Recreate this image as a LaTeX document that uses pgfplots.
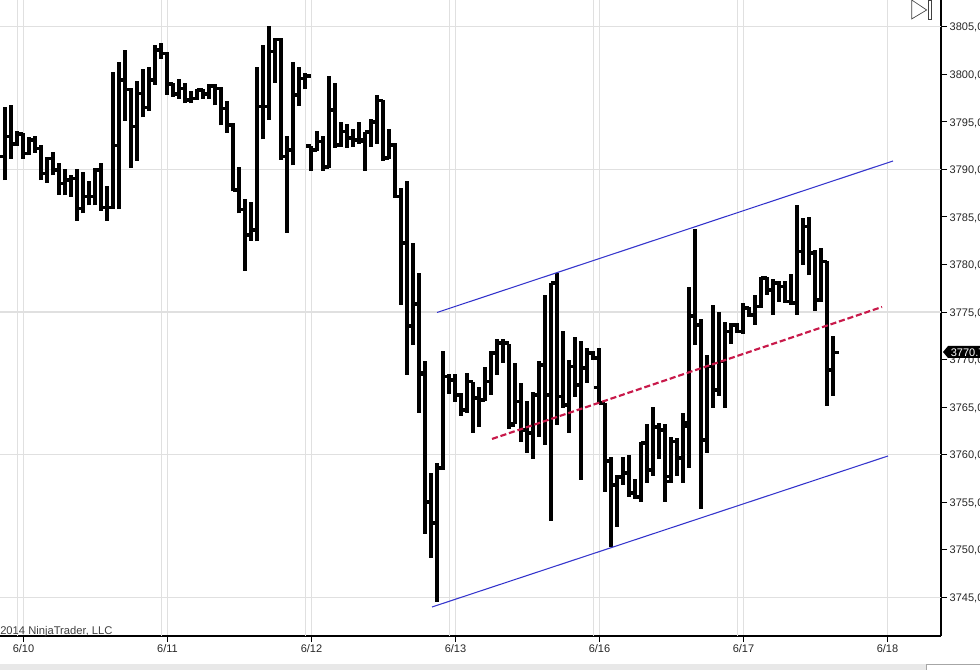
\documentclass[border=0pt]{standalone}
\usepackage{pgfplots}
\usepackage{pgfplotstable}
\usepackage{fontspec}
\setmainfont{Liberation Sans}
\pgfplotsset{compat=1.18}
\definecolor{gridlight}{HTML}{E0E0E0}
\definecolor{griddark}{HTML}{BEBEBE}
\definecolor{chanblue}{HTML}{3434CC}
\definecolor{midred}{HTML}{C8194A}
% x is the chart's horizontal position (bars are evenly spaced, 24 to a session)
\pgfplotstableread{
x h l o c
5 3796.52 3788.88 3791.34 3793.44
11 3796.73 3791.13 3793.44 3792.67
17 3794.00 3792.46 3792.67 3793.72
23 3793.79 3791.13 3793.72 3791.69
29 3793.44 3791.48 3791.69 3793.09
35 3793.51 3791.76 3793.09 3792.21
41 3792.53 3788.88 3792.21 3789.58
47 3791.27 3788.60 3789.58 3791.16
53 3791.83 3789.37 3791.16 3789.93
59 3790.71 3787.34 3789.93 3788.53
65 3790.00 3787.27 3788.53 3788.88
71 3789.44 3787.13 3788.88 3789.06
77 3790.00 3784.61 3789.06 3785.90
83 3789.72 3785.38 3785.90 3787.13
89 3788.74 3786.22 3787.13 3787.13
95 3790.14 3786.22 3787.13 3789.93
101 3790.71 3785.66 3789.93 3786.01
107 3788.25 3784.61 3786.01 3786.01
113 3800.24 3785.87 3786.01 3792.53
119 3801.29 3785.87 3792.53 3799.40
125 3802.55 3795.12 3799.40 3798.42
131 3798.56 3790.14 3798.42 3794.49
137 3799.26 3790.92 3794.49 3798.00
143 3800.52 3795.47 3798.00 3796.52
149 3800.73 3796.17 3796.52 3799.40
155 3803.04 3798.91 3799.40 3802.55
161 3803.25 3801.64 3802.55 3802.20
167 3802.34 3797.86 3802.20 3798.98
173 3799.05 3797.65 3798.98 3797.93
179 3799.47 3797.44 3797.93 3798.52
185 3799.05 3796.94 3798.52 3797.30
191 3798.21 3796.94 3797.30 3797.47
197 3798.49 3797.30 3797.47 3798.35
203 3798.49 3797.44 3798.35 3797.93
209 3798.98 3797.44 3797.93 3798.77
215 3798.98 3796.73 3798.77 3798.52
221 3798.70 3794.63 3798.52 3796.42
227 3797.22 3793.86 3796.42 3794.67
233 3794.91 3787.69 3794.67 3787.83
239 3790.21 3785.38 3787.83 3785.80
245 3786.92 3779.35 3785.80 3783.10
251 3786.57 3782.50 3783.10 3783.63
257 3800.73 3782.43 3783.63 3796.59
263 3803.04 3793.16 3796.59 3796.59
269 3805.08 3795.19 3796.59 3802.38
275 3803.81 3799.12 3802.38 3803.67
281 3803.81 3790.99 3803.67 3791.34
287 3793.51 3783.35 3791.34 3792.04
293 3801.29 3790.42 3792.04 3797.82
299 3800.73 3796.66 3797.82 3799.57
305 3800.17 3798.42 3799.57 3799.82
311 3792.46 3789.86 3792.46 3792.04
317 3794.04 3791.96 3792.04 3792.91
323 3793.51 3789.86 3792.91 3790.25
329 3799.82 3790.14 3790.25 3796.24
335 3799.08 3792.25 3796.24 3792.56
341 3794.98 3792.35 3792.56 3793.96
347 3794.77 3792.25 3793.96 3793.30
353 3794.25 3792.35 3793.30 3793.09
359 3794.98 3792.67 3793.09 3793.09
365 3793.93 3789.86 3792.91 3793.93
371 3795.32 3792.35 3793.93 3794.98
377 3797.82 3792.67 3794.98 3797.22
383 3797.29 3790.91 3797.22 3791.20
389 3794.25 3791.09 3791.20 3792.56
395 3792.77 3786.99 3792.56 3787.13
401 3788.04 3775.74 3787.13 3782.26
407 3788.78 3768.38 3782.26 3773.53
413 3782.26 3771.53 3773.53 3775.84
419 3779.13 3764.38 3775.84 3768.48
425 3769.88 3751.66 3768.62 3755.03
431 3758.11 3749.14 3755.03 3752.82
437 3759.16 3744.54 3752.82 3758.60
443 3770.93 3758.39 3758.60 3768.20
449 3768.48 3766.38 3768.20 3767.85
455 3768.48 3765.57 3767.85 3766.28
461 3766.49 3764.07 3766.28 3764.70
467 3768.62 3764.38 3764.70 3767.67
473 3767.67 3762.31 3767.67 3765.96
479 3767.15 3762.91 3765.96 3765.75
485 3769.22 3765.65 3765.75 3767.67
491 3770.93 3766.31 3767.67 3770.69
497 3772.16 3768.38 3770.69 3771.74
503 3772.16 3769.64 3771.74 3771.74
509 3771.64 3762.73 3771.74 3763.12
515 3769.67 3763.23 3763.23 3765.57
521 3767.54 3761.37 3765.57 3762.59
527 3765.68 3760.18 3762.59 3762.28
533 3766.59 3759.58 3762.28 3766.28
539 3769.88 3761.89 3766.28 3769.43
545 3776.79 3761.02 3769.43 3766.28
551 3778.05 3753.06 3766.28 3778.05
557 3779.13 3763.12 3778.05 3766.10
563 3773.01 3764.91 3766.10 3765.22
569 3769.96 3762.31 3765.22 3769.25
575 3772.41 3766.10 3769.25 3767.33
581 3771.95 3757.34 3767.33 3769.11
587 3771.22 3767.57 3769.11 3770.69
593 3770.93 3769.96 3770.69 3770.17
599 3771.22 3765.33 3767.04 3765.43
605 3765.47 3756.11 3765.43 3759.34
611 3759.76 3750.29 3759.34 3756.81
617 3757.86 3752.40 3756.81 3757.65
623 3759.76 3756.81 3757.65 3758.07
629 3759.97 3755.58 3758.07 3755.97
635 3757.44 3755.34 3755.97 3755.55
641 3761.37 3755.06 3755.55 3761.23
647 3763.23 3757.05 3761.23 3758.39
653 3765.01 3757.76 3758.39 3762.91
659 3763.36 3759.55 3762.91 3762.59
665 3763.23 3755.06 3762.59 3757.16
671 3761.89 3757.05 3757.68 3761.37
677 3761.75 3757.76 3761.37 3759.65
683 3764.41 3757.05 3759.65 3762.94
689 3777.66 3758.63 3763.33 3774.58
695 3783.73 3771.53 3774.58 3773.64
701 3774.27 3754.32 3773.64 3761.54
707 3770.48 3760.18 3761.54 3769.25
713 3775.74 3764.91 3769.25 3766.80
719 3774.99 3766.17 3766.80 3769.78
725 3773.95 3764.91 3769.78 3772.93
731 3773.85 3771.64 3772.93 3773.64
737 3773.85 3772.79 3773.64 3772.93
743 3775.98 3772.69 3772.93 3775.42
749 3775.56 3774.51 3775.42 3774.69
755 3776.79 3773.64 3774.69 3775.56
761 3778.72 3775.42 3775.56 3778.58
767 3778.72 3776.79 3778.58 3777.32
773 3778.47 3774.69 3777.32 3778.05
779 3778.29 3776.09 3778.05 3777.66
785 3778.29 3775.95 3777.66 3776.09
791 3778.99 3775.74 3776.09 3775.95
797 3786.25 3774.69 3775.95 3781.34
803 3784.89 3779.95 3781.34 3783.97
809 3784.99 3778.89 3783.97 3781.21
815 3781.52 3775.14 3781.21 3776.26
821 3781.73 3776.09 3776.26 3780.29
827 3780.40 3765.15 3780.29 3768.90
833 3772.48 3766.19 3768.90 3770.75
}\bars
\begin{document}
\begin{tikzpicture}
\path[use as bounding box] (0,0) rectangle (735pt,502.5pt);
\fill[black!9] (0,0) rectangle (694.5pt,4.5pt);
\draw[black!35,line width=0.6pt] (735pt,3.9pt) -- (694.8pt,3.9pt) -- (694.8pt,0);
\begin{axis}[
  at={(0,25.5pt)}, anchor=south west,
  scale only axis, width=705.75pt, height=477pt,
  xmin=0, xmax=941, ymin=3740.93, ymax=3807.81,
  axis x line*=bottom, axis y line*=right,
  axis line style={-, black, line width=0.85pt},
  tick align=outside, major tick length=4.5pt,
  tick style={black, line width=0.7pt},
  xtick={23.5,167.5,311.5,455.5,599.5,743.5,887.5},
  xticklabels={6/10,6/11,6/12,6/13,6/16,6/17,6/18},
  ytick={3745,3750,...,3805},
  xmajorgrids, major x grid style={gridlight, line width=0.85pt},
  extra x ticks={17.5,161.5,305.5,449.5,593.5,737.5},
  extra x tick labels={},
  extra x tick style={major tick length=0pt, grid=major, major grid style={griddark, line width=1.1pt}},
  extra y ticks={3745,3760,3775,3790,3805},
  extra y tick labels={},
  extra y tick style={major tick length=0pt, grid=major, major grid style={gridlight, line width=0.85pt}},
  /pgf/number format/.cd, fixed, fixed zerofill, precision=1, use comma=false, 1000 sep={}, assume math mode=true,
  /pgfplots/.cd,
  yticklabel style={font=\fontsize{8.25}{10}\selectfont, text=black!85, xshift=-1.5pt, yshift=-0.8pt},
  xticklabel style={font=\fontsize{8.25}{10}\selectfont, text=black!85, yshift=1.6pt},
  clip=false,
]
% high-low stems
\addplot[draw=none, no markers, forget plot,
  error bars/.cd, y dir=plus, y explicit, error mark=none,
  error bar style={draw=black, line width=3.1pt}]
  table[x=x, y=l, y error expr=\thisrow{h}-\thisrow{l}] {\bars};
% open ticks
\addplot[draw=none, no markers, forget plot,
  error bars/.cd, x dir=minus, x fixed=5.5, error mark=none,
  error bar style={draw=black, line width=2.5pt}]
  table[x=x, y=o] {\bars};
% close ticks
\addplot[draw=none, no markers, forget plot,
  error bars/.cd, x dir=plus, x fixed=5.5, error mark=none,
  error bar style={draw=black, line width=2.5pt}]
  table[x=x, y=c] {\bars};
% channel
\addplot[chanblue, line width=0.8pt, forget plot] coordinates {(437,3774.95) (893,3790.88)};
\addplot[chanblue, line width=0.8pt, forget plot] coordinates {(432,3743.98) (888,3759.86)};
\addplot[midred, line width=1.6pt, dash pattern=on 4.6pt off 2.1pt, forget plot] coordinates {(492,3761.65) (882,3775.53)};
\end{axis}
\node[anchor=base west, inner sep=0, text=black!75, font=\fontsize{8.4}{10}\selectfont] at (0,27pt) {2014 NinjaTrader, LLC};
% last price tag
\fill[black] (707.25pt,238.5pt) -- (711pt,243pt) -- (735pt,243pt) -- (735pt,234pt) -- (711pt,234pt) -- cycle;
\node[anchor=base west, inner sep=0, text=white, font=\fontsize{8.25}{10}\selectfont] at (712.9pt,235.3pt) {3770.75};
% chart-trader icon
\draw[black!75, line width=0.5pt] (683.8pt,502.5pt) -- (695pt,495pt) -- (683.8pt,488.3pt) -- cycle;
\draw[black!75, line width=0.5pt] (696.2pt,502.5pt) rectangle (698.8pt,488.3pt);
\end{tikzpicture}
\end{document}
